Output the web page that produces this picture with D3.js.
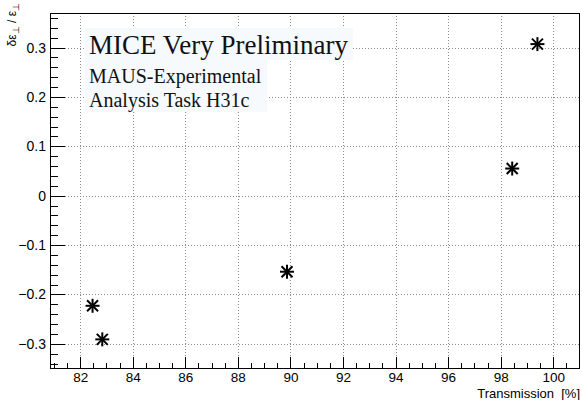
<!DOCTYPE html>
<html>
<head>
<meta charset="utf-8">
<script src="https://cdn.jsdelivr.net/npm/d3@7"></script>
<style>
html,body{margin:0;padding:0;background:#fff;}
svg{display:block;}
</style>
</head>
<body>
<svg id="chart" width="582" height="400"></svg>
<script>
// ---- data ----
const transmission = [82.47, 82.84, 89.87, 98.44, 99.40];
const emittanceChange = [-0.223, -0.291, -0.154, 0.055, 0.307];
const xTickValues = [82, 84, 86, 88, 90, 92, 94, 96, 98, 100];
const yTickValues = [-0.3, -0.2, -0.1, 0, 0.1, 0.2, 0.3];
const xDomain = [80.85, 101.02];
const yDomain = [-0.35, 0.37];
const titleLines = ["MICE Very Preliminary", "MAUS-Experimental", "Analysis Task H31c"];

// ---- layout ----
const W = 582, H = 400;
const L = 50, R = 580, T = 13, B = 368.5;
const svg = d3.select("#chart");

const x = d3.scaleLinear().domain(xDomain).range([L, R]);
const y = d3.scaleLinear().domain(yDomain).range([B, T]);

const xMinor = d3.range(81, 101.01, 0.5).map(v => +v.toFixed(2)).filter(v => v >= xDomain[0] && v <= xDomain[1]);
const yMinor = d3.range(-34, 37, 2).map(v => v / 100).filter(v => v >= yDomain[0] && v <= yDomain[1]);

// grid
const grid = svg.append("g").attr("stroke", "#8a8a8a").attr("stroke-width", 1).attr("stroke-dasharray", "1,2");
grid.selectAll("line.gx").data(xTickValues).join("line")
  .attr("x1", d => Math.round(x(d)) + 0.5).attr("x2", d => Math.round(x(d)) + 0.5)
  .attr("y1", T).attr("y2", B);
grid.selectAll("line.gy").data(yTickValues).join("line")
  .attr("y1", d => Math.round(y(d)) + 0.5).attr("y2", d => Math.round(y(d)) + 0.5)
  .attr("x1", L).attr("x2", R);

// text box
const tb = svg.append("g");
const lineBoxes = [
  {x: 85, y: 28, w: 268, h: 32},
  {x: 85, y: 60, w: 182, h: 26},
  {x: 85, y: 86, w: 182, h: 26}
];
tb.selectAll("rect").data(lineBoxes).join("rect")
  .attr("x", d => d.x).attr("y", d => d.y).attr("width", d => d.w).attr("height", d => d.h)
  .attr("fill", "#f6fafd");
const lineStyle = [{size: 27, base: 53.5}, {size: 20, base: 82.5}, {size: 20, base: 106.5}];
tb.selectAll("text").data(titleLines).join("text")
  .attr("x", 89)
  .attr("y", (d, i) => lineStyle[i].base)
  .attr("font-family", "'Liberation Serif', 'Times New Roman', serif")
  .attr("font-size", (d, i) => lineStyle[i].size)
  .attr("fill", "#111")
  .text(d => d);

// axes
const font = "'Liberation Sans', Arial, Helvetica, sans-serif";
const fmtY = d => d === 0 ? "0" : d3.format(".1f")(d).replace("-", "\u2212");

const xAxis = svg.append("g").attr("transform", `translate(0,${B})`)
  .call(d3.axisBottom(x).tickValues(xTickValues).tickSizeInner(-12).tickSizeOuter(0).tickPadding(4).tickFormat(d3.format("d")));
const xAxisMinor = svg.append("g").attr("transform", `translate(0,${B})`)
  .call(d3.axisBottom(x).tickValues(xMinor).tickSizeInner(-6).tickSizeOuter(0).tickFormat(""));
const yAxis = svg.append("g").attr("transform", `translate(${L},0)`)
  .call(d3.axisLeft(y).tickValues(yTickValues).tickSizeInner(-15).tickSizeOuter(0).tickPadding(4).tickFormat(fmtY));
const yAxisMinor = svg.append("g").attr("transform", `translate(${L},0)`)
  .call(d3.axisLeft(y).tickValues(yMinor).tickSizeInner(-7.5).tickSizeOuter(0).tickFormat(""));

[xAxis, xAxisMinor, yAxis, yAxisMinor].forEach(g => {
  g.select(".domain").remove();
  g.selectAll(".tick line").attr("stroke", "#000").attr("stroke-width", 1).attr("shape-rendering", "crispEdges");
  g.selectAll("text").attr("font-family", font).attr("font-size", 14).attr("fill", "#000");
});
xAxis.selectAll("text").attr("font-size", 13.5).attr("dy", "0.71em");

// frame
svg.append("rect").attr("x", L + 0.5).attr("y", T + 0.5).attr("width", R - L - 1).attr("height", B - T - 0.5)
  .attr("fill", "none").attr("stroke", "#000").attr("stroke-width", 1).attr("shape-rendering", "crispEdges");

// axis titles
svg.append("text").attr("x", R).attr("y", 397.5).attr("text-anchor", "end")
  .attr("font-family", font).attr("font-size", 13).attr("xml:space", "preserve").text("Transmission  [%]");

const yt = svg.append("text").attr("transform", "translate(16,3) rotate(-90)").attr("text-anchor", "end")
  .attr("font-family", font).attr("font-size", 12);
yt.append("tspan").text("\u03b4\u03b5");
yt.append("tspan").attr("dy", 3).attr("font-size", 8.5).text("\u22a5");
yt.append("tspan").attr("dy", -3).text(" / \u03b5");
yt.append("tspan").attr("dy", 3).attr("font-size", 8.5).text("\u22a5");

// markers (asterisk)
const pts = transmission.map((t, i) => ({t, v: emittanceChange[i]}));
const mk = svg.append("g").attr("stroke", "#000").attr("stroke-width", 2).attr("fill", "none");
const r = 7, rd = 5.5;
pts.forEach(p => {
  const cx = x(p.t), cy = y(p.v);
  const g = mk.append("g").attr("transform", `translate(${cx},${cy})`);
  g.append("line").attr("x1", -r).attr("x2", r).attr("y1", 0).attr("y2", 0);
  g.append("line").attr("x1", 0).attr("x2", 0).attr("y1", -r).attr("y2", r);
  g.append("line").attr("x1", -rd).attr("x2", rd).attr("y1", -rd).attr("y2", rd);
  g.append("line").attr("x1", -rd).attr("x2", rd).attr("y1", rd).attr("y2", -rd);
});
</script>
</body>
</html>
